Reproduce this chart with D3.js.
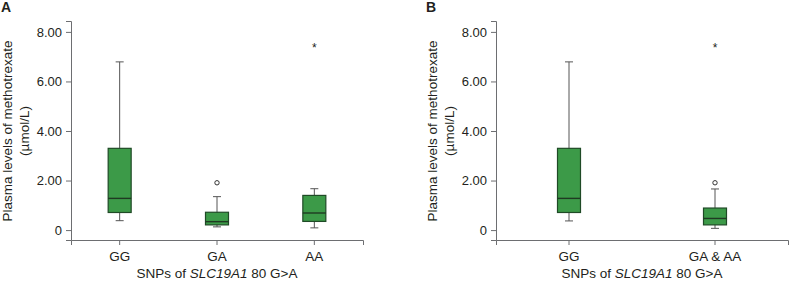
<!DOCTYPE html>
<html lang="en">
<head>
  <meta charset="UTF-8">
  <title>SLC19A1 80 G>A</title>
  <script src="https://d3js.org/d3.v7.min.js"></script>
  <style>
    * { margin: 0; padding: 0; box-sizing: border-box; }
    body { background: #fff; font-family: "Liberation Sans", Arial, sans-serif; }
    svg text { fill: #231f20; }
    .axis path, .axis line { stroke: #6d6e71; }
  </style>
</head>
<body>
  <div id="chart"></div>
  <script>
    // panel A
    const groupsA = ["GG", "GA", "AA"];
    const lowA = [0.38, 0.13, 0.09];
    const q1A = [0.71, 0.21, 0.35];
    const medA = [1.28, 0.34, 0.69];
    const q3A = [3.30, 0.72, 1.40];
    const highA = [6.79, 1.35, 1.67];
    const outA = [null, 1.91, null];
    const extA = [null, null, 7.45];

    // panel B
    const groupsB = ["GG", "GA & AA"];
    const lowB = [0.37, 0.07];
    const q1B = [0.71, 0.21];
    const medB = [1.28, 0.47];
    const q3B = [3.30, 0.89];
    const highB = [6.79, 1.66];
    const outB = [null, 1.91];
    const extB = [null, 7.45];

    const yTicks = [0, 2, 4, 6, 8];

    const width = 789, height = 281;
    const svg = d3.select("#chart").append("svg")
                  .attr("width", width)
                  .attr("height", height);

    const y = d3.scaleLinear().domain([-0.4, 8.44]).range([240, 21]);
    const fmt = d => d === 0 ? "0" : d3.format(".2f")(d);

    function panel(left, letter, groups, low, q1, med, q3, high, out, ext) {
      const x = d3.scaleBand().domain(groups).range([left, left + 292]);
      const g = svg.append("g");
      const rows = groups.map((k, i) => ({k, low: low[i], q1: q1[i], med: med[i], q3: q3[i], high: high[i], out: out[i], ext: ext[i]}));
      const cx = d => x(d.k) + x.bandwidth() / 2;
      const bw = 23, cap = 8;

      g.append("text")
       .attr("x", left - 70)
       .attr("y", 12)
       .style("font-size", "14px")
       .style("font-weight", "bold")
       .text(letter);

      g.append("g")
       .attr("class", "axis")
       .attr("transform", `translate(${left},0)`)
       .call(d3.axisLeft(y).tickValues(yTicks).tickFormat(fmt).tickSize(5).tickPadding(4))
       .call(a => a.selectAll("text").style("font-size", "13px").attr("fill", "#231f20").style("font-family", "inherit"));

      g.append("g")
       .attr("class", "axis")
       .attr("transform", "translate(0,240)")
       .call(d3.axisBottom(x).tickSize(5).tickPadding(6))
       .call(a => a.selectAll("text").style("font-size", "13.5px").attr("fill", "#231f20").style("font-family", "inherit"));

      // y title, two lines
      const yt = g.append("text")
                  .attr("transform", `translate(${left - 59},131) rotate(-90)`)
                  .attr("text-anchor", "middle")
                  .style("font-size", "13.5px");
      yt.append("tspan").attr("x", 0).attr("y", 0).text("Plasma levels of methotrexate");
      yt.append("tspan").attr("x", 0).attr("y", 17).text("(\u00b5mol/L)");

      // x title
      const xt = g.append("text")
                  .attr("x", left + 146)
                  .attr("y", 278)
                  .attr("text-anchor", "middle")
                  .style("font-size", "13.5px");
      xt.append("tspan").text("SNPs of ");
      xt.append("tspan").style("font-style", "italic").text("SLC19A1");
      xt.append("tspan").text(" 80 G>A");

      const b = g.selectAll(".box").data(rows).enter().append("g").attr("class", "box");

      b.append("line")
       .attr("x1", cx).attr("x2", cx)
       .attr("y1", d => y(d.low)).attr("y2", d => y(d.high))
       .attr("stroke", "#555").attr("stroke-width", 1);
      b.append("line")
       .attr("x1", d => cx(d) - cap / 2).attr("x2", d => cx(d) + cap / 2)
       .attr("y1", d => y(d.low)).attr("y2", d => y(d.low))
       .attr("stroke", "#555");
      b.append("line")
       .attr("x1", d => cx(d) - cap / 2).attr("x2", d => cx(d) + cap / 2)
       .attr("y1", d => y(d.high)).attr("y2", d => y(d.high))
       .attr("stroke", "#555");

      b.append("rect")
       .attr("x", d => cx(d) - bw / 2)
       .attr("width", bw)
       .attr("y", d => y(d.q3))
       .attr("height", d => y(d.q1) - y(d.q3))
       .attr("fill", "#3c9a48")
       .attr("stroke", "#1f4a26")
       .attr("stroke-width", 1.2);

      b.append("line")
       .attr("x1", d => cx(d) - bw / 2).attr("x2", d => cx(d) + bw / 2)
       .attr("y1", d => y(d.med)).attr("y2", d => y(d.med))
       .attr("stroke", "#1f3a22").attr("stroke-width", 1.4);

      b.filter(d => d.out != null).append("circle")
       .attr("cx", cx).attr("cy", d => y(d.out))
       .attr("r", 2.2)
       .attr("fill", "#fff").attr("stroke", "#333").attr("stroke-width", 1);

      b.filter(d => d.ext != null).append("text")
       .attr("x", cx).attr("y", d => y(d.ext))
       .attr("dy", "0.55em")
       .attr("text-anchor", "middle")
       .style("font-size", "12px")
       .text("*");
    }

    panel(71, "A", groupsA, lowA, q1A, medA, q3A, highA, outA, extA);
    panel(496, "B", groupsB, lowB, q1B, medB, q3B, highB, outB, extB);
  </script>
</body>
</html>
